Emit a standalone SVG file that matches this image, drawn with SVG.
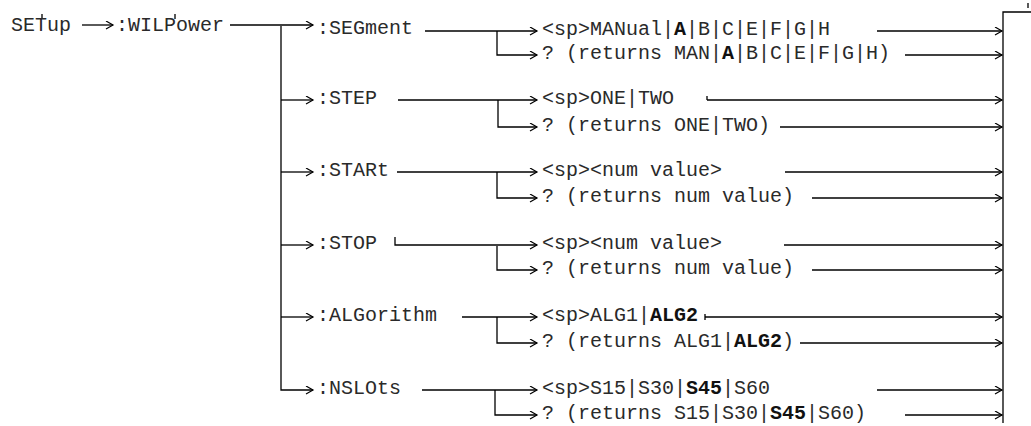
<svg xmlns="http://www.w3.org/2000/svg" width="1031" height="426" viewBox="0 0 1031 426">
<style>
text{font-family:"Liberation Mono","Courier New",monospace;font-size:20px;fill:#2a2a2a}
.b{font-weight:bold;fill:#111}
.c{fill:none;stroke:#000;stroke-width:1.3}
</style>
<defs>
<marker id="ah" markerUnits="userSpaceOnUse" markerWidth="10" markerHeight="10" refX="8" refY="4.5" orient="auto" viewBox="0 0 10 10">
<path d="M1,0.5 L8,4.5 L1,8.5" fill="none" stroke="#000" stroke-width="1.2"/>
</marker>
</defs>
<rect width="1031" height="426" fill="#fff"/>
<g id="connectors" class="c">
<path d="M82,25 H113" marker-end="url(#ah)"/>
<path d="M230,25 H313" marker-end="url(#ah)"/>
<path d="M281,26 V390 H313" marker-end="url(#ah)"/>
<path d="M281,100 H313" marker-end="url(#ah)"/>
<path d="M281,172 H313" marker-end="url(#ah)"/>
<path d="M281,245 H313" marker-end="url(#ah)"/>
<path d="M281,317 H313" marker-end="url(#ah)"/>
<path d="M425,31 H537" marker-end="url(#ah)"/>
<path d="M497,31 V55 H537" marker-end="url(#ah)"/>
<path d="M398,100 H537" marker-end="url(#ah)"/>
<path d="M498,100 V127 H537" marker-end="url(#ah)"/>
<path d="M397,172 H537" marker-end="url(#ah)"/>
<path d="M497,172 V198 H537" marker-end="url(#ah)"/>
<path d="M395,237 V245 H537" marker-end="url(#ah)"/>
<path d="M497,246 V270 H537" marker-end="url(#ah)"/>
<path d="M462,317 H537" marker-end="url(#ah)"/>
<path d="M497,317 V343 H537" marker-end="url(#ah)"/>
<path d="M422,390 H537" marker-end="url(#ah)"/>
<path d="M495,390 V415 H537" marker-end="url(#ah)"/>
<path d="M877,31 H1002" marker-end="url(#ah)"/>
<path d="M905,55 H1002" marker-end="url(#ah)"/>
<path d="M707,100 H1002" marker-end="url(#ah)"/>
<path d="M780,127 H1002" marker-end="url(#ah)"/>
<path d="M785,172 H1002" marker-end="url(#ah)"/>
<path d="M812,198 H1002" marker-end="url(#ah)"/>
<path d="M784,245 H1002" marker-end="url(#ah)"/>
<path d="M812,270 H1002" marker-end="url(#ah)"/>
<path d="M705,317 H1002" marker-end="url(#ah)"/>
<path d="M800,343 H1002" marker-end="url(#ah)"/>
<path d="M877,390 H1002" marker-end="url(#ah)"/>
<path d="M905,415 H1002" marker-end="url(#ah)"/>
<path d="M1003,423 V12 H1031"/>
<path d="M707,96 V100 M705,314 V320 M42,14 V19 M175,14 V19 M1028,3 V8"/>
</g>
<g id="setup"><text x="11" y="31">SETup</text></g>
<g id="wilpower"><text x="116" y="31">:WILPower</text></g>
<g id="segment"><text x="317" y="34">:SEGment</text></g>
<g id="step"><text x="317" y="104">:STEP</text></g>
<g id="start"><text x="317" y="176">:STARt</text></g>
<g id="stop"><text x="317" y="249">:STOP</text></g>
<g id="algorithm"><text x="317" y="321">:ALGorithm</text></g>
<g id="nslots"><text x="317" y="394">:NSLOts</text></g>
<g id="segment-set"><text x="542" y="35">&lt;sp&gt;MANual|<tspan class="b">A</tspan>|B|C|E|F|G|H</text></g>
<g id="segment-query"><text x="542" y="59">? (returns MAN|<tspan class="b">A</tspan>|B|C|E|F|G|H)</text></g>
<g id="step-set"><text x="542" y="104">&lt;sp&gt;ONE|TWO</text></g>
<g id="step-query"><text x="542" y="131">? (returns ONE|TWO)</text></g>
<g id="start-set"><text x="542" y="176">&lt;sp&gt;&lt;num value&gt;</text></g>
<g id="start-query"><text x="542" y="202">? (returns num value)</text></g>
<g id="stop-set"><text x="542" y="249">&lt;sp&gt;&lt;num value&gt;</text></g>
<g id="stop-query"><text x="542" y="274">? (returns num value)</text></g>
<g id="algorithm-set"><text x="542" y="321">&lt;sp&gt;ALG1|<tspan class="b">ALG2</tspan></text></g>
<g id="algorithm-query"><text x="542" y="347">? (returns ALG1|<tspan class="b">ALG2</tspan>)</text></g>
<g id="nslots-set"><text x="542" y="394">&lt;sp&gt;S15|S30|<tspan class="b">S45</tspan>|S60</text></g>
<g id="nslots-query"><text x="542" y="419">? (returns S15|S30|<tspan class="b">S45</tspan>|S60)</text></g>
</svg>
